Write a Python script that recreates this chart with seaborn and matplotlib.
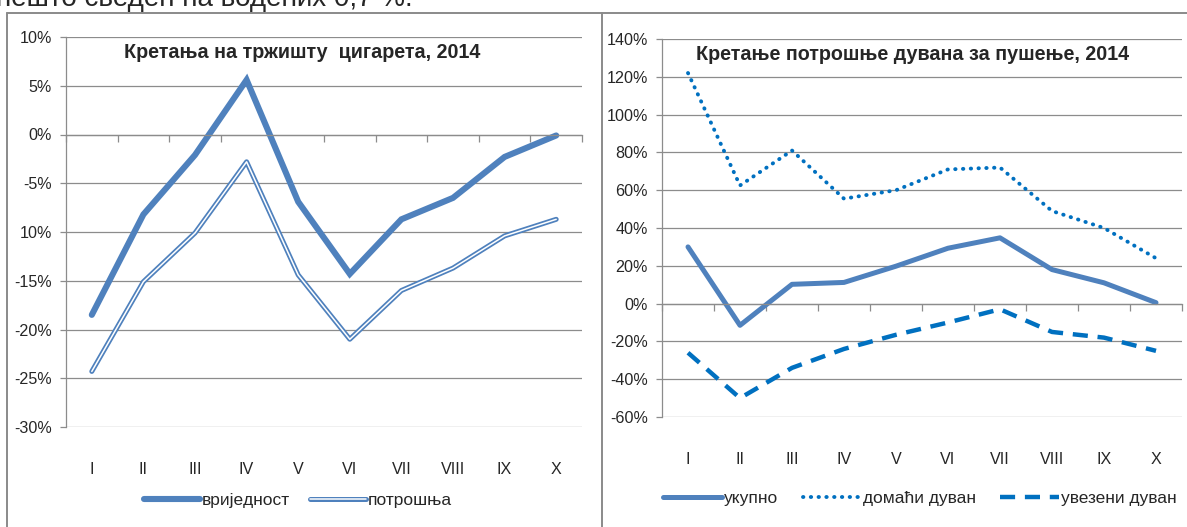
import numpy as np
import matplotlib
matplotlib.use('Agg')
import matplotlib.pyplot as plt
import matplotlib.patheffects as pe
from matplotlib import font_manager
from matplotlib.lines import Line2D
import seaborn as sns

# months (roman numerals) shared by both charts
months = ['I', 'II', 'III', 'IV', 'V', 'VI', 'VII', 'VIII', 'IX', 'X']

# left chart: cigarette market, % change
vrijednost = [-18.5, -8.2, -2.1, 5.6, -6.9, -14.3, -8.7, -6.5, -2.3, -0.1]
potrosnja = [-24.3, -15.1, -10.1, -2.8, -14.4, -21.0, -16.0, -13.7, -10.4, -8.7]
left_yticks = [10, 5, 0, -5, -10, -15, -20, -25, -30]
left_ylabels = ['10%', '5%', '0%', '-5%', '10%', '-15%', '-20%', '-25%', '-30%']

# right chart: smoking tobacco consumption, % change
ukupno = [30, -11.5, 10.2, 11.2, 19.8, 29.3, 34.8, 18, 11, 0.5]
domaci = [122, 62.5, 81, 55.5, 60, 71, 72, 49, 40, 24]
uvezeni = [-26, -50, -34, -24, -16.5, -10, -3, -15, -18, -25]
right_yticks = [140, 120, 100, 80, 60, 40, 20, 0, -20, -40, -60]
right_ylabels = [f'{t}%' for t in right_yticks]

sns.set_style('white')
installed = {f.name for f in font_manager.fontManager.ttflist}
if 'Liberation Sans Narrow' in installed:
    main_font, k = 'Liberation Sans Narrow', 1.0
else:
    main_font, k = 'Liberation Sans', 0.86
plt.rcParams['font.family'] = [main_font, 'DejaVu Sans']

steel = '#4F81BD'
bright = '#0070C0'
grid_c = '#8C8C8C'

fig = plt.figure(figsize=(11.87, 5.27), dpi=100)
W, H = 1187, 527


def px_axes(x0, x1, ytop, ybot):
    return fig.add_axes([x0 / W, 1 - ybot / H, (x1 - x0) / W, (ybot - ytop) / H])


def style_axis(ax, ticks, labels, ylim):
    ax.set_xlim(-0.5, 9.5)
    ax.set_ylim(*ylim)
    ax.set_yticks(ticks, labels)
    ax.grid(axis='y', color=grid_c, lw=0.9)
    ax.grid(axis='x', visible=False)
    ax.set_xlabel('')
    ax.set_ylabel('')
    for s in ['right', 'bottom']:
        ax.spines[s].set_visible(False)
    ax.spines['left'].set_color(grid_c)
    ax.spines['left'].set_linewidth(0.9)
    ax.spines['top'].set_position(('data', 0))
    ax.spines['top'].set_color(grid_c)
    ax.spines['top'].set_linewidth(0.9)
    ax.set_xticks(np.arange(-0.5, 10, 1), minor=True)
    ax.tick_params(axis='x', which='major', bottom=False, top=False,
                   labelsize=13.5 * k, pad=22)
    ax.tick_params(axis='x', which='minor', bottom=False, top=True, direction='in',
                   length=5, color=grid_c, width=0.9)
    ax.tick_params(axis='y', left=True, length=4, color=grid_c, width=0.9,
                   labelsize=13.5 * k, pad=6)
    ax.set_axisbelow(True)


# ---- left chart
ax1 = px_axes(66, 582, 37, 427)
sns.lineplot(x=months, y=vrijednost, ax=ax1, color=steel, lw=4.4, sort=False,
             label='вријeдност', solid_joinstyle='miter')
sns.lineplot(x=months, y=potrosnja, ax=ax1, color='white', lw=1.1, sort=False,
             label='потрошња',
             path_effects=[pe.Stroke(linewidth=3.6, foreground=steel), pe.Normal()])
style_axis(ax1, left_yticks, left_ylabels, (-30, 10))
ax1.text(0.458, 0.985, 'Кретања на тржишту  цигарета, 2014', transform=ax1.transAxes,
         ha='center', va='top', fontsize=16.5 * k, fontweight='bold')
ax1.legend(loc='center', bbox_to_anchor=(298 / W, 1 - 500 / H), bbox_transform=fig.transFigure,
           ncol=2, frameon=False, fontsize=14.5 * k, handlelength=3.2, columnspacing=1.2,
           handletextpad=0.1)

# ---- right chart
ax2 = px_axes(662, 1182, 39, 417)
sns.lineplot(x=months, y=ukupno, ax=ax2, color=steel, lw=3.6, sort=False, label='укупно')
sns.lineplot(x=months, y=domaci, ax=ax2, color=bright, lw=2.8, sort=False,
             label='домаћи дуван', dashes=False)
ax2.lines[-1].set_linestyle((0, (0.1, 1.9)))
ax2.lines[-1].set_dash_capstyle('round')
sns.lineplot(x=months, y=uvezeni, ax=ax2, color=bright, lw=3.2, sort=False,
             label='увезени дуван')
ax2.lines[-1].set_linestyle((0, (3.4, 2.2)))
style_axis(ax2, right_yticks, right_ylabels, (-60, 140))
ax2.text(0.065, 0.985, 'Кретање потрошње дувана за пушење, 2014', transform=ax2.transAxes,
         ha='left', va='top', fontsize=16.5 * k, fontweight='bold')
ax2.legend(loc='center', bbox_to_anchor=(920 / W, 1 - 498 / H), bbox_transform=fig.transFigure,
           ncol=3, frameon=False, fontsize=14.5 * k, handlelength=3.4, columnspacing=1.4,
           handletextpad=0.1)

# panel borders
for xs, ys in [([7, W], [13, 13]), ([7, 7], [13, H]), ([602, 602], [13, H])]:
    fig.add_artist(Line2D([x / W for x in xs], [1 - y / H for y in ys],
                          transform=fig.transFigure, color='#8A8A8A', lw=1.4))

# clipped line of body text above the charts
fig.text(-4 / W, 1 - 6 / H, 'нешто сведен на водећих 0,7 %.', fontsize=20,
         family=['Liberation Sans', 'DejaVu Sans'], va='baseline', ha='left')

fig.savefig('out.png', dpi=100)
